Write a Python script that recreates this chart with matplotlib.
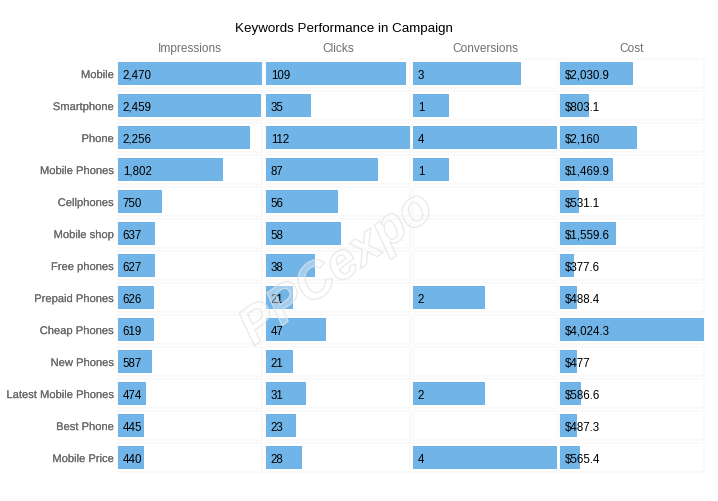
import matplotlib
matplotlib.use("Agg")
from matplotlib import pyplot as plt
import matplotlib.patheffects as pe

plt.rcParams['font.family'] = ['Liberation Sans', 'DejaVu Sans']

keywords = ["Mobile", "Smartphone", "Phone", "Mobile Phones", "Cellphones", "Mobile shop",
            "Free phones", "Prepaid Phones", "Cheap Phones", "New Phones",
            "Latest Mobile Phones", "Best Phone", "Mobile Price"]
impressions = [2470, 2459, 2256, 1802, 750, 637, 627, 626, 619, 587, 474, 445, 440]
clicks = [109, 35, 112, 87, 56, 58, 38, 21, 47, 21, 31, 23, 28]
conversions = [3, 1, 4, 1, 0, 0, 0, 2, 0, 0, 2, 0, 4]
cost = [2030.9, 803.1, 2160, 1469.9, 531.1, 1559.6, 377.6, 488.4, 4024.3, 477, 586.6, 487.3, 565.4]
headers = ["Impressions", "Clicks", "Conversions", "Cost"]

W, H = 718, 502
BAR = "#71b5e8"
FRAME = "#f8f8f8"
GREY = "#6a6a6a"


def fmt_count(v):
    return f"{v:,}" if v else ""


def fmt_cost(v):
    return f"${v:,.1f}".replace(".0", "") if v else ""


def panel(left, right, values, header, fmt, first=False):
    ax = fig.add_axes([left / W, 1 - 474.5 / H, (right - left) / W, 416 / H])
    rows = range(len(values))
    vmax = max(values)
    ax.barh(rows, [vmax] * len(values), height=0.9, color="white", edgecolor=FRAME, linewidth=1.2,
            clip_on=False, zorder=1)
    ax.barh(rows, values, height=0.72, color=BAR, zorder=2)
    ax.set_xlim(0, vmax)
    ax.set_ylim(len(values) - 0.5, -0.5)
    ax.axis("off")
    for i, v in enumerate(values):
        ax.annotate(fmt(v), (0, i), xytext=(3.4, 0), textcoords="offset points", va="center_baseline",
                    ha="left", fontsize=8.3, color="black", zorder=3)
        if first:
            ax.annotate(keywords[i], (0, i), xytext=(-3, -0.4), textcoords="offset points",
                        va="center_baseline", ha="right", fontsize=8.05, color=GREY, annotation_clip=False,
                        path_effects=[pe.withStroke(linewidth=0.1, foreground=GREY)])
    ax.set_title(header, fontsize=8.6, color="#707070", pad=5)


fig = plt.figure(figsize=(W / 100, H / 100), dpi=100)
fig.text(344 / W, 1 - 29 / H, "Keywords Performance in Campaign", ha="center", va="center",
         fontsize=9.6, color="black")

panel(118, 262, impressions, headers[0], fmt_count, first=True)
panel(266, 410, clicks, headers[1], fmt_count)
panel(413, 557, conversions, headers[2], fmt_count)
panel(560, 704, cost, headers[3], fmt_cost)

# watermark over the plots
fig.text(337 / W, 1 - 270 / H, "PPCexpo", ha="center", va="center", rotation=36, fontsize=37,
         style="italic", weight="bold", color=(1, 1, 1, 0.2), zorder=10,
         path_effects=[pe.Stroke(linewidth=1.0, foreground=(0.88, 0.88, 0.88, 0.7)),
                       pe.Normal()])

fig.savefig("out.png", dpi=100)
